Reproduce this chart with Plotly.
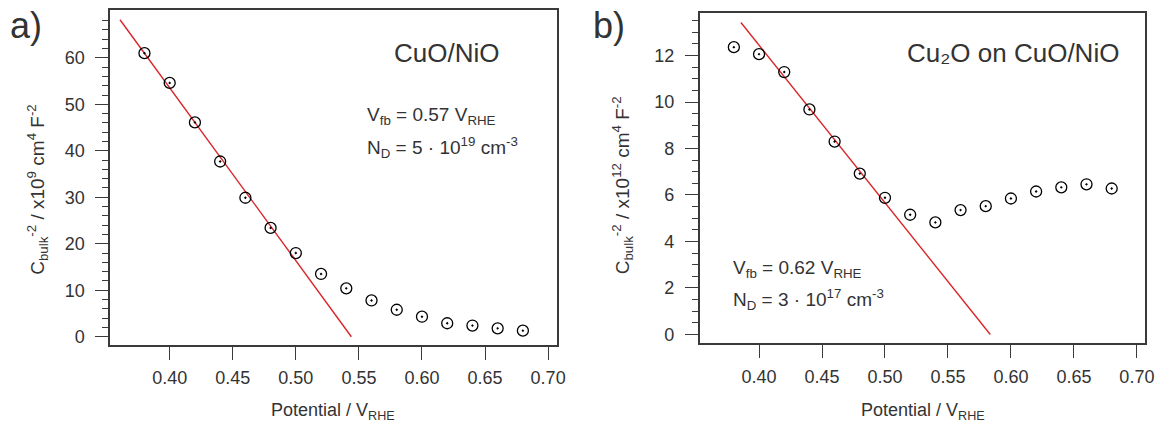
import plotly.graph_objects as go
import numpy as np

# ---------------- data ----------------
potential = [0.38, 0.40, 0.42, 0.44, 0.46, 0.48, 0.50, 0.52, 0.54, 0.56, 0.58, 0.60, 0.62, 0.64, 0.66, 0.68]
c_bulk_a = [61.0, 54.6, 46.1, 37.7, 29.9, 23.4, 18.0, 13.5, 10.4, 7.8, 5.8, 4.3, 2.9, 2.4, 1.8, 1.3]
c_bulk_b = [12.36, 12.06, 11.29, 9.68, 8.30, 6.92, 5.88, 5.15, 4.82, 5.35, 5.52, 5.85, 6.15, 6.33, 6.46, 6.28]

fit_a_x = [0.3606, 0.544]
fit_a_y = [68.2, 0.0]
fit_b_x = [0.3856, 0.5836]
fit_b_y = [13.42, 0.0]

xtick_vals = [0.40, 0.45, 0.50, 0.55, 0.60, 0.65, 0.70]
ytick_a = [0, 10, 20, 30, 40, 50, 60]
ytick_b = [0, 2, 4, 6, 8, 10, 12]

FONT = "Liberation Sans"
TXT = "#333333"
FRAME = "#3a3a3a"
RED = "#d8262a"

W, H = 1173, 428
xa_dom = [111 / W, 561 / W]
xb_dom = [705 / W, 1154.3 / W]
ya_dom = [1 - 346.7 / H, 1 - 10 / H]
yb_dom = [1 - 345 / H, 1 - 13.3 / H]

fig = go.Figure()

marker = dict(symbol="circle-open-dot", size=11, color="black", line=dict(width=1.3, color="black"))

fig.add_trace(go.Scatter(x=fit_a_x, y=fit_a_y, mode="lines", line=dict(color=RED, width=1.4),
                         xaxis="x", yaxis="y", showlegend=False))
fig.add_trace(go.Scatter(x=potential, y=c_bulk_a, mode="markers", marker=marker,
                         xaxis="x", yaxis="y", showlegend=False))
fig.add_trace(go.Scatter(x=fit_b_x, y=fit_b_y, mode="lines", line=dict(color=RED, width=1.4),
                         xaxis="x2", yaxis="y2", showlegend=False))
fig.add_trace(go.Scatter(x=potential, y=c_bulk_b, mode="markers", marker=marker,
                         xaxis="x2", yaxis="y2", showlegend=False))

tickfont = dict(family=FONT, size=18, color=TXT)

def xaxis(domain, anchor):
    return dict(domain=domain, anchor=anchor, range=[0.3528, 0.7068],
                tickvals=xtick_vals, ticktext=[f"{v:.2f}" for v in xtick_vals],
                ticks="outside", ticklen=13, tickwidth=1.3, tickcolor=FRAME,
                showline=True, mirror=True, linecolor=FRAME, linewidth=1.5,
                showgrid=False, zeroline=False, tickfont=tickfont, ticklabelstandoff=3)

def yaxis(domain, anchor, rng, majors, minors):
    return dict(domain=domain, anchor=anchor, range=rng,
                tickvals=majors, ticks="outside", ticklen=13, tickwidth=1.3, tickcolor=FRAME,
                minor=dict(tickvals=minors, ticks="outside", ticklen=6, tickwidth=1.3, tickcolor=FRAME,
                           showgrid=False),
                showline=True, mirror=True, linecolor=FRAME, linewidth=1.5,
                showgrid=False, zeroline=False, tickfont=tickfont, ticklabelstandoff=7)

minors_a = [v for v in range(2, 70, 2) if v % 10 != 0]
minors_b = [v / 2 for v in range(1, 28) if v % 4 != 0]

fig.update_layout(
    width=W, height=H, margin=dict(l=0, r=0, t=0, b=0),
    paper_bgcolor="white", plot_bgcolor="white",
    xaxis=xaxis(xa_dom, "y"),
    yaxis=yaxis(ya_dom, "x", [-1.8, 70.3], ytick_a, minors_a),
    xaxis2=xaxis(xb_dom, "y2"),
    yaxis2=yaxis(yb_dom, "x2", [-0.385, 13.82], ytick_b, minors_b),
    font=dict(family=FONT, color=TXT),
)

def ann(text, x, y, size, xanchor="center", yanchor="middle", angle=0):
    fig.add_annotation(text=text, x=x / W, y=1 - y / H, xref="paper", yref="paper",
                       xanchor=xanchor, yanchor=yanchor, showarrow=False, textangle=angle,
                       font=dict(family=FONT, size=size, color=TXT))

# panel letters
ann("a)", 8, 26, 36, xanchor="left")
ann("b)", 596, 26, 36, xanchor="left")

# x titles
ann("Potential / V<sub>RHE</sub>", 336, 413, 18)
ann("Potential / V<sub>RHE</sub>", 930, 413, 18)

# y titles
ann("C<sub>bulk</sub><sup>-2</sup> / x10<sup>9</sup> cm<sup>4</sup> F<sup>-2</sup>", 37, 190, 19, angle=-90)
ann("C<sub>bulk</sub><sup>-2</sup> / x10<sup>12</sup> cm<sup>4</sup> F<sup>-2</sup>", 627, 186, 19, angle=-90)

# in-plot labels
ann("CuO/NiO", 450, 53, 26)
ann("V<sub>fb</sub> = 0.57 V<sub>RHE</sub>", 368, 117, 19, xanchor="left")
ann("N<sub>D</sub> = 5 · 10<sup>19</sup> cm<sup>-3</sup>", 368, 148, 19, xanchor="left")

ann("Cu₂O on CuO/NiO", 1021, 53, 26)
ann("V<sub>fb</sub> = 0.62 V<sub>RHE</sub>", 737, 270, 19, xanchor="left")
ann("N<sub>D</sub> = 3 · 10<sup>17</sup> cm<sup>-3</sup>", 737, 301, 19, xanchor="left")

fig.write_html("out.html")
